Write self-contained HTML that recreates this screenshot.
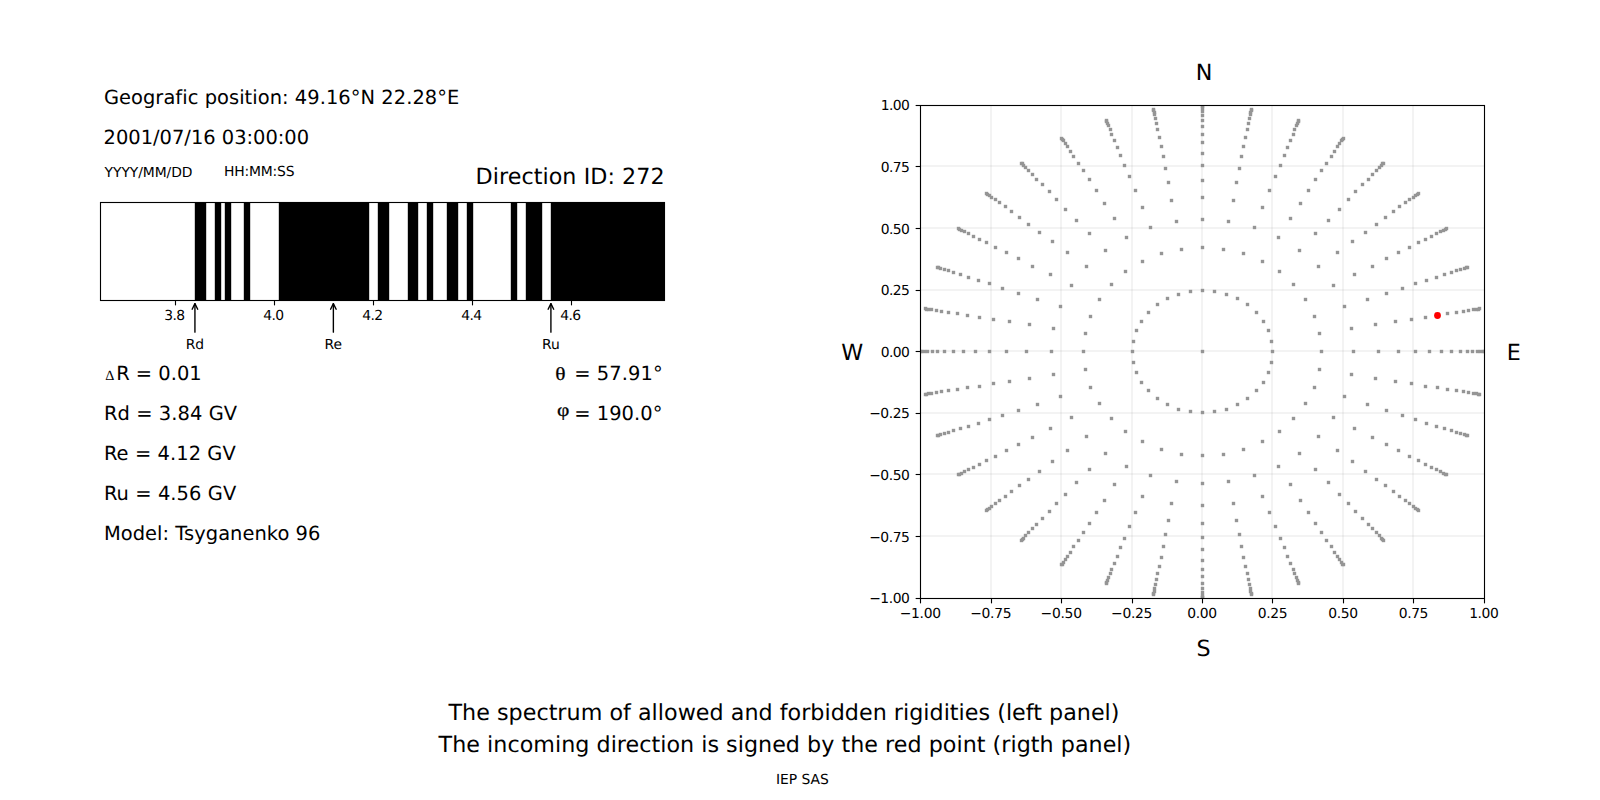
<!DOCTYPE html>
<html lang="en"><head><meta charset="utf-8"><title>Allowed and forbidden rigidities</title>
<style>html,body{margin:0;padding:0;background:#fff;}body{width:1600px;height:800px;overflow:hidden;}svg{display:block;}text{font-family:"DejaVu Sans","Liberation Sans",sans-serif;fill:#000;font-variant-ligatures:none;font-kerning:normal;text-rendering:geometricPrecision;}.s{font-family:"Liberation Serif","DejaVu Serif",serif;}</style></head><body>
<svg width="1600" height="800" viewBox="0 0 1600 800">
<rect width="1600" height="800" fill="#fff"/>
<text x="103.9" y="104" font-size="19.444" textLength="355.4">Geografic position: 49.16°N 22.28°E</text>
<text x="103.6" y="144" font-size="19.444">2001/07/16 03:00:00</text>
<text x="104.6" y="177" font-size="13.889" textLength="87.9">YYYY/MM/DD</text>
<text x="224.0" y="176" font-size="13.889" textLength="70.5">HH:MM:SS</text>
<text x="475.6" y="184" font-size="22.222" textLength="189.0">Direction ID: 272</text>
<g fill="#000">
<rect x="194.81" y="202.5" width="11.38" height="98.0"/>
<rect x="214.81" y="202.5" width="6.38" height="98.0"/>
<rect x="224.81" y="202.5" width="6.38" height="98.0"/>
<rect x="243.81" y="202.5" width="6.38" height="98.0"/>
<rect x="278.81" y="202.5" width="90.38" height="98.0"/>
<rect x="377.81" y="202.5" width="11.38" height="98.0"/>
<rect x="407.81" y="202.5" width="10.38" height="98.0"/>
<rect x="426.81" y="202.5" width="6.38" height="98.0"/>
<rect x="446.81" y="202.5" width="11.38" height="98.0"/>
<rect x="466.81" y="202.5" width="6.38" height="98.0"/>
<rect x="510.81" y="202.5" width="6.38" height="98.0"/>
<rect x="525.81" y="202.5" width="16.38" height="98.0"/>
<rect x="550.81" y="202.5" width="114.19" height="98.0"/>
</g>
<rect x="100.5" y="202.5" width="564.0" height="98.0" fill="none" stroke="#000" stroke-width="1.11"/>
<line x1="175.5" y1="300.5" x2="175.5" y2="305.36" stroke="#000" stroke-width="1.11"/>
<text x="174.6" y="320" font-size="13.889" text-anchor="middle" textLength="20.9">3.8</text>
<line x1="274.5" y1="300.5" x2="274.5" y2="305.36" stroke="#000" stroke-width="1.11"/>
<text x="273.6" y="320" font-size="13.889" text-anchor="middle" textLength="20.9">4.0</text>
<line x1="373.5" y1="300.5" x2="373.5" y2="305.36" stroke="#000" stroke-width="1.11"/>
<text x="372.6" y="320" font-size="13.889" text-anchor="middle" textLength="20.9">4.2</text>
<line x1="472.5" y1="300.5" x2="472.5" y2="305.36" stroke="#000" stroke-width="1.11"/>
<text x="471.6" y="320" font-size="13.889" text-anchor="middle" textLength="20.9">4.4</text>
<line x1="571.5" y1="300.5" x2="571.5" y2="305.36" stroke="#000" stroke-width="1.11"/>
<text x="570.6" y="320" font-size="13.889" text-anchor="middle" textLength="20.9">4.6</text>
<g stroke="#000" stroke-width="1.39" fill="none" stroke-linecap="round" stroke-linejoin="round"><path d="M194.93 332.15 L194.93 303.65"/><path d="M192.15 309.2 L194.93 303.65 L197.71 309.2"/></g>
<text x="194.93" y="348.8" font-size="13.889" text-anchor="middle">Rd</text>
<g stroke="#000" stroke-width="1.39" fill="none" stroke-linecap="round" stroke-linejoin="round"><path d="M333.37 332.15 L333.37 303.65"/><path d="M330.59 309.2 L333.37 303.65 L336.15 309.2"/></g>
<text x="333.37" y="348.8" font-size="13.889" text-anchor="middle">Re</text>
<g stroke="#000" stroke-width="1.39" fill="none" stroke-linecap="round" stroke-linejoin="round"><path d="M550.91 332.15 L550.91 303.65"/><path d="M548.13 309.2 L550.91 303.65 L553.69 309.2"/></g>
<text x="550.91" y="348.8" font-size="13.889" text-anchor="middle">Ru</text>
<text x="105.2" y="380" font-size="14.2" class="s">Δ</text>
<text x="116.2" y="380" font-size="19.444">R = 0.01</text>
<text x="103.9" y="420" font-size="19.444" textLength="133.2">Rd = 3.84 GV</text>
<text x="103.9" y="460" font-size="19.444" textLength="131.9">Re = 4.12 GV</text>
<text x="103.9" y="500" font-size="19.444" textLength="132.3">Ru = 4.56 GV</text>
<text x="103.9" y="540" font-size="19.444" textLength="216.5">Model: Tsyganenko 96</text>
<text transform="translate(555.3 380) scale(1.16 1)" font-size="18.5" class="s" stroke="#000" stroke-width="0.25">θ</text>
<text x="567.9" y="380" font-size="19.444" xml:space="preserve" textLength="94.7"> = 57.91°</text>
<text transform="translate(556.9 415.8) scale(1.16 1)" font-size="18.5" class="s" stroke="#000" stroke-width="0.25">φ</text>
<text x="567.9" y="420" font-size="19.444" xml:space="preserve" textLength="94.5"> = 190.0°</text>
<g stroke="#b0b0b0" stroke-opacity="0.15" stroke-width="2" shape-rendering="crispEdges">
<line x1="991" y1="105.5" x2="991" y2="598.5"/>
<line x1="920.5" y1="536" x2="1484.5" y2="536"/>
<line x1="1061" y1="105.5" x2="1061" y2="598.5"/>
<line x1="920.5" y1="474" x2="1484.5" y2="474"/>
<line x1="1132" y1="105.5" x2="1132" y2="598.5"/>
<line x1="920.5" y1="413" x2="1484.5" y2="413"/>
<line x1="1202" y1="105.5" x2="1202" y2="598.5"/>
<line x1="920.5" y1="351" x2="1484.5" y2="351"/>
<line x1="1272" y1="105.5" x2="1272" y2="598.5"/>
<line x1="920.5" y1="290" x2="1484.5" y2="290"/>
<line x1="1343" y1="105.5" x2="1343" y2="598.5"/>
<line x1="920.5" y1="228" x2="1484.5" y2="228"/>
<line x1="1413" y1="105.5" x2="1413" y2="598.5"/>
<line x1="920.5" y1="166" x2="1484.5" y2="166"/>
</g>
<clipPath id="c"><rect x="920.5" y="105.5" width="564.0" height="493.0"/></clipPath>
<g fill="#959595" clip-path="url(#c)">
<rect x="1200.81" y="349.81" width="3.38" height="3.38"/>
<rect x="1270.81" y="349.81" width="3.38" height="3.38"/>
<rect x="1269.81" y="339.81" width="3.38" height="3.38"/>
<rect x="1266.81" y="328.81" width="3.38" height="3.38"/>
<rect x="1261.81" y="319.81" width="3.38" height="3.38"/>
<rect x="1254.81" y="310.81" width="3.38" height="3.38"/>
<rect x="1245.81" y="302.81" width="3.38" height="3.38"/>
<rect x="1235.81" y="296.81" width="3.38" height="3.38"/>
<rect x="1224.81" y="292.81" width="3.38" height="3.38"/>
<rect x="1212.81" y="289.81" width="3.38" height="3.38"/>
<rect x="1200.81" y="288.81" width="3.38" height="3.38"/>
<rect x="1188.81" y="289.81" width="3.38" height="3.38"/>
<rect x="1176.81" y="292.81" width="3.38" height="3.38"/>
<rect x="1165.81" y="296.81" width="3.38" height="3.38"/>
<rect x="1155.81" y="302.81" width="3.38" height="3.38"/>
<rect x="1146.81" y="310.81" width="3.38" height="3.38"/>
<rect x="1139.81" y="319.81" width="3.38" height="3.38"/>
<rect x="1134.81" y="328.81" width="3.38" height="3.38"/>
<rect x="1131.81" y="339.81" width="3.38" height="3.38"/>
<rect x="1130.81" y="349.81" width="3.38" height="3.38"/>
<rect x="1131.81" y="360.81" width="3.38" height="3.38"/>
<rect x="1134.81" y="370.81" width="3.38" height="3.38"/>
<rect x="1139.81" y="380.81" width="3.38" height="3.38"/>
<rect x="1146.81" y="388.81" width="3.38" height="3.38"/>
<rect x="1155.81" y="396.81" width="3.38" height="3.38"/>
<rect x="1165.81" y="402.81" width="3.38" height="3.38"/>
<rect x="1176.81" y="407.81" width="3.38" height="3.38"/>
<rect x="1188.81" y="409.81" width="3.38" height="3.38"/>
<rect x="1200.81" y="410.81" width="3.38" height="3.38"/>
<rect x="1212.81" y="409.81" width="3.38" height="3.38"/>
<rect x="1224.81" y="407.81" width="3.38" height="3.38"/>
<rect x="1235.81" y="402.81" width="3.38" height="3.38"/>
<rect x="1245.81" y="396.81" width="3.38" height="3.38"/>
<rect x="1254.81" y="388.81" width="3.38" height="3.38"/>
<rect x="1261.81" y="380.81" width="3.38" height="3.38"/>
<rect x="1266.81" y="370.81" width="3.38" height="3.38"/>
<rect x="1269.81" y="360.81" width="3.38" height="3.38"/>
<rect x="1319.81" y="349.81" width="3.38" height="3.38"/>
<rect x="1317.81" y="331.81" width="3.38" height="3.38"/>
<rect x="1312.81" y="314.81" width="3.38" height="3.38"/>
<rect x="1303.81" y="297.81" width="3.38" height="3.38"/>
<rect x="1291.81" y="282.81" width="3.38" height="3.38"/>
<rect x="1277.81" y="269.81" width="3.38" height="3.38"/>
<rect x="1260.81" y="259.81" width="3.38" height="3.38"/>
<rect x="1241.81" y="251.81" width="3.38" height="3.38"/>
<rect x="1221.81" y="247.81" width="3.38" height="3.38"/>
<rect x="1200.81" y="245.81" width="3.38" height="3.38"/>
<rect x="1179.81" y="247.81" width="3.38" height="3.38"/>
<rect x="1159.81" y="251.81" width="3.38" height="3.38"/>
<rect x="1140.81" y="259.81" width="3.38" height="3.38"/>
<rect x="1123.81" y="269.81" width="3.38" height="3.38"/>
<rect x="1109.81" y="282.81" width="3.38" height="3.38"/>
<rect x="1097.81" y="297.81" width="3.38" height="3.38"/>
<rect x="1088.81" y="314.81" width="3.38" height="3.38"/>
<rect x="1083.81" y="331.81" width="3.38" height="3.38"/>
<rect x="1081.81" y="349.81" width="3.38" height="3.38"/>
<rect x="1083.81" y="367.81" width="3.38" height="3.38"/>
<rect x="1088.81" y="385.81" width="3.38" height="3.38"/>
<rect x="1097.81" y="401.81" width="3.38" height="3.38"/>
<rect x="1109.81" y="416.81" width="3.38" height="3.38"/>
<rect x="1123.81" y="429.81" width="3.38" height="3.38"/>
<rect x="1140.81" y="439.81" width="3.38" height="3.38"/>
<rect x="1159.81" y="447.81" width="3.38" height="3.38"/>
<rect x="1179.81" y="452.81" width="3.38" height="3.38"/>
<rect x="1200.81" y="453.81" width="3.38" height="3.38"/>
<rect x="1221.81" y="452.81" width="3.38" height="3.38"/>
<rect x="1241.81" y="447.81" width="3.38" height="3.38"/>
<rect x="1260.81" y="439.81" width="3.38" height="3.38"/>
<rect x="1277.81" y="429.81" width="3.38" height="3.38"/>
<rect x="1291.81" y="416.81" width="3.38" height="3.38"/>
<rect x="1303.81" y="401.81" width="3.38" height="3.38"/>
<rect x="1312.81" y="385.81" width="3.38" height="3.38"/>
<rect x="1317.81" y="367.81" width="3.38" height="3.38"/>
<rect x="1351.81" y="349.81" width="3.38" height="3.38"/>
<rect x="1349.81" y="326.81" width="3.38" height="3.38"/>
<rect x="1342.81" y="304.81" width="3.38" height="3.38"/>
<rect x="1331.81" y="283.81" width="3.38" height="3.38"/>
<rect x="1316.81" y="264.81" width="3.38" height="3.38"/>
<rect x="1297.81" y="248.81" width="3.38" height="3.38"/>
<rect x="1276.81" y="235.81" width="3.38" height="3.38"/>
<rect x="1252.81" y="225.81" width="3.38" height="3.38"/>
<rect x="1226.81" y="219.81" width="3.38" height="3.38"/>
<rect x="1200.81" y="217.81" width="3.38" height="3.38"/>
<rect x="1174.81" y="219.81" width="3.38" height="3.38"/>
<rect x="1148.81" y="225.81" width="3.38" height="3.38"/>
<rect x="1124.81" y="235.81" width="3.38" height="3.38"/>
<rect x="1103.81" y="248.81" width="3.38" height="3.38"/>
<rect x="1084.81" y="264.81" width="3.38" height="3.38"/>
<rect x="1069.81" y="283.81" width="3.38" height="3.38"/>
<rect x="1058.81" y="304.81" width="3.38" height="3.38"/>
<rect x="1051.81" y="326.81" width="3.38" height="3.38"/>
<rect x="1049.81" y="349.81" width="3.38" height="3.38"/>
<rect x="1051.81" y="372.81" width="3.38" height="3.38"/>
<rect x="1058.81" y="394.81" width="3.38" height="3.38"/>
<rect x="1069.81" y="415.81" width="3.38" height="3.38"/>
<rect x="1084.81" y="434.81" width="3.38" height="3.38"/>
<rect x="1103.81" y="451.81" width="3.38" height="3.38"/>
<rect x="1124.81" y="464.81" width="3.38" height="3.38"/>
<rect x="1148.81" y="473.81" width="3.38" height="3.38"/>
<rect x="1174.81" y="479.81" width="3.38" height="3.38"/>
<rect x="1200.81" y="481.81" width="3.38" height="3.38"/>
<rect x="1226.81" y="479.81" width="3.38" height="3.38"/>
<rect x="1252.81" y="473.81" width="3.38" height="3.38"/>
<rect x="1276.81" y="464.81" width="3.38" height="3.38"/>
<rect x="1297.81" y="451.81" width="3.38" height="3.38"/>
<rect x="1316.81" y="434.81" width="3.38" height="3.38"/>
<rect x="1331.81" y="415.81" width="3.38" height="3.38"/>
<rect x="1342.81" y="394.81" width="3.38" height="3.38"/>
<rect x="1349.81" y="372.81" width="3.38" height="3.38"/>
<rect x="1376.81" y="349.81" width="3.38" height="3.38"/>
<rect x="1373.81" y="322.81" width="3.38" height="3.38"/>
<rect x="1365.81" y="297.81" width="3.38" height="3.38"/>
<rect x="1352.81" y="272.81" width="3.38" height="3.38"/>
<rect x="1335.81" y="250.81" width="3.38" height="3.38"/>
<rect x="1313.81" y="231.81" width="3.38" height="3.38"/>
<rect x="1288.81" y="216.81" width="3.38" height="3.38"/>
<rect x="1260.81" y="205.81" width="3.38" height="3.38"/>
<rect x="1231.81" y="198.81" width="3.38" height="3.38"/>
<rect x="1200.81" y="195.81" width="3.38" height="3.38"/>
<rect x="1169.81" y="198.81" width="3.38" height="3.38"/>
<rect x="1140.81" y="205.81" width="3.38" height="3.38"/>
<rect x="1112.81" y="216.81" width="3.38" height="3.38"/>
<rect x="1087.81" y="231.81" width="3.38" height="3.38"/>
<rect x="1065.81" y="250.81" width="3.38" height="3.38"/>
<rect x="1048.81" y="272.81" width="3.38" height="3.38"/>
<rect x="1035.81" y="297.81" width="3.38" height="3.38"/>
<rect x="1027.81" y="322.81" width="3.38" height="3.38"/>
<rect x="1024.81" y="349.81" width="3.38" height="3.38"/>
<rect x="1027.81" y="376.81" width="3.38" height="3.38"/>
<rect x="1035.81" y="402.81" width="3.38" height="3.38"/>
<rect x="1048.81" y="426.81" width="3.38" height="3.38"/>
<rect x="1065.81" y="448.81" width="3.38" height="3.38"/>
<rect x="1087.81" y="467.81" width="3.38" height="3.38"/>
<rect x="1112.81" y="482.81" width="3.38" height="3.38"/>
<rect x="1140.81" y="494.81" width="3.38" height="3.38"/>
<rect x="1169.81" y="501.81" width="3.38" height="3.38"/>
<rect x="1200.81" y="503.81" width="3.38" height="3.38"/>
<rect x="1231.81" y="501.81" width="3.38" height="3.38"/>
<rect x="1260.81" y="494.81" width="3.38" height="3.38"/>
<rect x="1288.81" y="482.81" width="3.38" height="3.38"/>
<rect x="1313.81" y="467.81" width="3.38" height="3.38"/>
<rect x="1335.81" y="448.81" width="3.38" height="3.38"/>
<rect x="1352.81" y="426.81" width="3.38" height="3.38"/>
<rect x="1365.81" y="402.81" width="3.38" height="3.38"/>
<rect x="1373.81" y="376.81" width="3.38" height="3.38"/>
<rect x="1396.81" y="349.81" width="3.38" height="3.38"/>
<rect x="1393.81" y="319.81" width="3.38" height="3.38"/>
<rect x="1384.81" y="291.81" width="3.38" height="3.38"/>
<rect x="1370.81" y="264.81" width="3.38" height="3.38"/>
<rect x="1350.81" y="239.81" width="3.38" height="3.38"/>
<rect x="1326.81" y="218.81" width="3.38" height="3.38"/>
<rect x="1298.81" y="201.81" width="3.38" height="3.38"/>
<rect x="1267.81" y="188.81" width="3.38" height="3.38"/>
<rect x="1234.81" y="180.81" width="3.38" height="3.38"/>
<rect x="1200.81" y="178.81" width="3.38" height="3.38"/>
<rect x="1166.81" y="180.81" width="3.38" height="3.38"/>
<rect x="1133.81" y="188.81" width="3.38" height="3.38"/>
<rect x="1102.81" y="201.81" width="3.38" height="3.38"/>
<rect x="1074.81" y="218.81" width="3.38" height="3.38"/>
<rect x="1050.81" y="239.81" width="3.38" height="3.38"/>
<rect x="1030.81" y="264.81" width="3.38" height="3.38"/>
<rect x="1016.81" y="291.81" width="3.38" height="3.38"/>
<rect x="1007.81" y="319.81" width="3.38" height="3.38"/>
<rect x="1004.81" y="349.81" width="3.38" height="3.38"/>
<rect x="1007.81" y="379.81" width="3.38" height="3.38"/>
<rect x="1016.81" y="408.81" width="3.38" height="3.38"/>
<rect x="1030.81" y="435.81" width="3.38" height="3.38"/>
<rect x="1050.81" y="459.81" width="3.38" height="3.38"/>
<rect x="1074.81" y="480.81" width="3.38" height="3.38"/>
<rect x="1102.81" y="498.81" width="3.38" height="3.38"/>
<rect x="1133.81" y="510.81" width="3.38" height="3.38"/>
<rect x="1166.81" y="518.81" width="3.38" height="3.38"/>
<rect x="1200.81" y="521.81" width="3.38" height="3.38"/>
<rect x="1234.81" y="518.81" width="3.38" height="3.38"/>
<rect x="1267.81" y="510.81" width="3.38" height="3.38"/>
<rect x="1298.81" y="498.81" width="3.38" height="3.38"/>
<rect x="1326.81" y="480.81" width="3.38" height="3.38"/>
<rect x="1350.81" y="459.81" width="3.38" height="3.38"/>
<rect x="1370.81" y="435.81" width="3.38" height="3.38"/>
<rect x="1384.81" y="408.81" width="3.38" height="3.38"/>
<rect x="1393.81" y="379.81" width="3.38" height="3.38"/>
<rect x="1413.81" y="349.81" width="3.38" height="3.38"/>
<rect x="1409.81" y="317.81" width="3.38" height="3.38"/>
<rect x="1400.81" y="286.81" width="3.38" height="3.38"/>
<rect x="1384.81" y="256.81" width="3.38" height="3.38"/>
<rect x="1363.81" y="230.81" width="3.38" height="3.38"/>
<rect x="1337.81" y="207.81" width="3.38" height="3.38"/>
<rect x="1306.81" y="188.81" width="3.38" height="3.38"/>
<rect x="1273.81" y="174.81" width="3.38" height="3.38"/>
<rect x="1237.81" y="166.81" width="3.38" height="3.38"/>
<rect x="1200.81" y="163.81" width="3.38" height="3.38"/>
<rect x="1163.81" y="166.81" width="3.38" height="3.38"/>
<rect x="1127.81" y="174.81" width="3.38" height="3.38"/>
<rect x="1094.81" y="188.81" width="3.38" height="3.38"/>
<rect x="1063.81" y="207.81" width="3.38" height="3.38"/>
<rect x="1037.81" y="230.81" width="3.38" height="3.38"/>
<rect x="1016.81" y="256.81" width="3.38" height="3.38"/>
<rect x="1000.81" y="286.81" width="3.38" height="3.38"/>
<rect x="991.81" y="317.81" width="3.38" height="3.38"/>
<rect x="987.81" y="349.81" width="3.38" height="3.38"/>
<rect x="991.81" y="381.81" width="3.38" height="3.38"/>
<rect x="1000.81" y="413.81" width="3.38" height="3.38"/>
<rect x="1016.81" y="442.81" width="3.38" height="3.38"/>
<rect x="1037.81" y="469.81" width="3.38" height="3.38"/>
<rect x="1063.81" y="492.81" width="3.38" height="3.38"/>
<rect x="1094.81" y="510.81" width="3.38" height="3.38"/>
<rect x="1127.81" y="524.81" width="3.38" height="3.38"/>
<rect x="1163.81" y="532.81" width="3.38" height="3.38"/>
<rect x="1200.81" y="535.81" width="3.38" height="3.38"/>
<rect x="1237.81" y="532.81" width="3.38" height="3.38"/>
<rect x="1273.81" y="524.81" width="3.38" height="3.38"/>
<rect x="1306.81" y="510.81" width="3.38" height="3.38"/>
<rect x="1337.81" y="492.81" width="3.38" height="3.38"/>
<rect x="1363.81" y="469.81" width="3.38" height="3.38"/>
<rect x="1384.81" y="442.81" width="3.38" height="3.38"/>
<rect x="1400.81" y="413.81" width="3.38" height="3.38"/>
<rect x="1409.81" y="381.81" width="3.38" height="3.38"/>
<rect x="1427.81" y="349.81" width="3.38" height="3.38"/>
<rect x="1423.81" y="315.81" width="3.38" height="3.38"/>
<rect x="1413.81" y="281.81" width="3.38" height="3.38"/>
<rect x="1396.81" y="250.81" width="3.38" height="3.38"/>
<rect x="1374.81" y="222.81" width="3.38" height="3.38"/>
<rect x="1346.81" y="197.81" width="3.38" height="3.38"/>
<rect x="1313.81" y="177.81" width="3.38" height="3.38"/>
<rect x="1278.81" y="163.81" width="3.38" height="3.38"/>
<rect x="1239.81" y="154.81" width="3.38" height="3.38"/>
<rect x="1200.81" y="151.81" width="3.38" height="3.38"/>
<rect x="1161.81" y="154.81" width="3.38" height="3.38"/>
<rect x="1122.81" y="163.81" width="3.38" height="3.38"/>
<rect x="1087.81" y="177.81" width="3.38" height="3.38"/>
<rect x="1054.81" y="197.81" width="3.38" height="3.38"/>
<rect x="1026.81" y="222.81" width="3.38" height="3.38"/>
<rect x="1004.81" y="250.81" width="3.38" height="3.38"/>
<rect x="987.81" y="281.81" width="3.38" height="3.38"/>
<rect x="977.81" y="315.81" width="3.38" height="3.38"/>
<rect x="973.81" y="349.81" width="3.38" height="3.38"/>
<rect x="977.81" y="384.81" width="3.38" height="3.38"/>
<rect x="987.81" y="417.81" width="3.38" height="3.38"/>
<rect x="1004.81" y="448.81" width="3.38" height="3.38"/>
<rect x="1026.81" y="477.81" width="3.38" height="3.38"/>
<rect x="1054.81" y="501.81" width="3.38" height="3.38"/>
<rect x="1087.81" y="521.81" width="3.38" height="3.38"/>
<rect x="1122.81" y="536.81" width="3.38" height="3.38"/>
<rect x="1161.81" y="544.81" width="3.38" height="3.38"/>
<rect x="1200.81" y="547.81" width="3.38" height="3.38"/>
<rect x="1239.81" y="544.81" width="3.38" height="3.38"/>
<rect x="1278.81" y="536.81" width="3.38" height="3.38"/>
<rect x="1313.81" y="521.81" width="3.38" height="3.38"/>
<rect x="1346.81" y="501.81" width="3.38" height="3.38"/>
<rect x="1374.81" y="477.81" width="3.38" height="3.38"/>
<rect x="1396.81" y="448.81" width="3.38" height="3.38"/>
<rect x="1413.81" y="417.81" width="3.38" height="3.38"/>
<rect x="1423.81" y="384.81" width="3.38" height="3.38"/>
<rect x="1439.81" y="349.81" width="3.38" height="3.38"/>
<rect x="1435.81" y="313.81" width="3.38" height="3.38"/>
<rect x="1424.81" y="278.81" width="3.38" height="3.38"/>
<rect x="1407.81" y="245.81" width="3.38" height="3.38"/>
<rect x="1383.81" y="215.81" width="3.38" height="3.38"/>
<rect x="1353.81" y="189.81" width="3.38" height="3.38"/>
<rect x="1319.81" y="168.81" width="3.38" height="3.38"/>
<rect x="1282.81" y="153.81" width="3.38" height="3.38"/>
<rect x="1241.81" y="144.81" width="3.38" height="3.38"/>
<rect x="1200.81" y="140.81" width="3.38" height="3.38"/>
<rect x="1159.81" y="144.81" width="3.38" height="3.38"/>
<rect x="1118.81" y="153.81" width="3.38" height="3.38"/>
<rect x="1081.81" y="168.81" width="3.38" height="3.38"/>
<rect x="1047.81" y="189.81" width="3.38" height="3.38"/>
<rect x="1017.81" y="215.81" width="3.38" height="3.38"/>
<rect x="993.81" y="245.81" width="3.38" height="3.38"/>
<rect x="976.81" y="278.81" width="3.38" height="3.38"/>
<rect x="965.81" y="313.81" width="3.38" height="3.38"/>
<rect x="961.81" y="349.81" width="3.38" height="3.38"/>
<rect x="965.81" y="385.81" width="3.38" height="3.38"/>
<rect x="976.81" y="421.81" width="3.38" height="3.38"/>
<rect x="993.81" y="454.81" width="3.38" height="3.38"/>
<rect x="1017.81" y="483.81" width="3.38" height="3.38"/>
<rect x="1047.81" y="509.81" width="3.38" height="3.38"/>
<rect x="1081.81" y="530.81" width="3.38" height="3.38"/>
<rect x="1118.81" y="545.81" width="3.38" height="3.38"/>
<rect x="1159.81" y="555.81" width="3.38" height="3.38"/>
<rect x="1200.81" y="558.81" width="3.38" height="3.38"/>
<rect x="1241.81" y="555.81" width="3.38" height="3.38"/>
<rect x="1282.81" y="545.81" width="3.38" height="3.38"/>
<rect x="1319.81" y="530.81" width="3.38" height="3.38"/>
<rect x="1353.81" y="509.81" width="3.38" height="3.38"/>
<rect x="1383.81" y="483.81" width="3.38" height="3.38"/>
<rect x="1407.81" y="454.81" width="3.38" height="3.38"/>
<rect x="1424.81" y="421.81" width="3.38" height="3.38"/>
<rect x="1435.81" y="385.81" width="3.38" height="3.38"/>
<rect x="1449.81" y="349.81" width="3.38" height="3.38"/>
<rect x="1445.81" y="311.81" width="3.38" height="3.38"/>
<rect x="1434.81" y="275.81" width="3.38" height="3.38"/>
<rect x="1416.81" y="240.81" width="3.38" height="3.38"/>
<rect x="1391.81" y="209.81" width="3.38" height="3.38"/>
<rect x="1360.81" y="182.81" width="3.38" height="3.38"/>
<rect x="1324.81" y="161.81" width="3.38" height="3.38"/>
<rect x="1285.81" y="145.81" width="3.38" height="3.38"/>
<rect x="1243.81" y="135.81" width="3.38" height="3.38"/>
<rect x="1200.81" y="132.81" width="3.38" height="3.38"/>
<rect x="1157.81" y="135.81" width="3.38" height="3.38"/>
<rect x="1115.81" y="145.81" width="3.38" height="3.38"/>
<rect x="1076.81" y="161.81" width="3.38" height="3.38"/>
<rect x="1040.81" y="182.81" width="3.38" height="3.38"/>
<rect x="1009.81" y="209.81" width="3.38" height="3.38"/>
<rect x="984.81" y="240.81" width="3.38" height="3.38"/>
<rect x="966.81" y="275.81" width="3.38" height="3.38"/>
<rect x="955.81" y="311.81" width="3.38" height="3.38"/>
<rect x="951.81" y="349.81" width="3.38" height="3.38"/>
<rect x="955.81" y="387.81" width="3.38" height="3.38"/>
<rect x="966.81" y="424.81" width="3.38" height="3.38"/>
<rect x="984.81" y="458.81" width="3.38" height="3.38"/>
<rect x="1009.81" y="489.81" width="3.38" height="3.38"/>
<rect x="1040.81" y="516.81" width="3.38" height="3.38"/>
<rect x="1076.81" y="538.81" width="3.38" height="3.38"/>
<rect x="1115.81" y="554.81" width="3.38" height="3.38"/>
<rect x="1157.81" y="564.81" width="3.38" height="3.38"/>
<rect x="1200.81" y="567.81" width="3.38" height="3.38"/>
<rect x="1243.81" y="564.81" width="3.38" height="3.38"/>
<rect x="1285.81" y="554.81" width="3.38" height="3.38"/>
<rect x="1324.81" y="538.81" width="3.38" height="3.38"/>
<rect x="1360.81" y="516.81" width="3.38" height="3.38"/>
<rect x="1391.81" y="489.81" width="3.38" height="3.38"/>
<rect x="1416.81" y="458.81" width="3.38" height="3.38"/>
<rect x="1434.81" y="424.81" width="3.38" height="3.38"/>
<rect x="1445.81" y="387.81" width="3.38" height="3.38"/>
<rect x="1458.81" y="349.81" width="3.38" height="3.38"/>
<rect x="1454.81" y="310.81" width="3.38" height="3.38"/>
<rect x="1442.81" y="272.81" width="3.38" height="3.38"/>
<rect x="1423.81" y="237.81" width="3.38" height="3.38"/>
<rect x="1397.81" y="204.81" width="3.38" height="3.38"/>
<rect x="1366.81" y="177.81" width="3.38" height="3.38"/>
<rect x="1329.81" y="154.81" width="3.38" height="3.38"/>
<rect x="1288.81" y="138.81" width="3.38" height="3.38"/>
<rect x="1245.81" y="127.81" width="3.38" height="3.38"/>
<rect x="1200.81" y="124.81" width="3.38" height="3.38"/>
<rect x="1155.81" y="127.81" width="3.38" height="3.38"/>
<rect x="1112.81" y="138.81" width="3.38" height="3.38"/>
<rect x="1071.81" y="154.81" width="3.38" height="3.38"/>
<rect x="1034.81" y="177.81" width="3.38" height="3.38"/>
<rect x="1003.81" y="204.81" width="3.38" height="3.38"/>
<rect x="977.81" y="237.81" width="3.38" height="3.38"/>
<rect x="958.81" y="272.81" width="3.38" height="3.38"/>
<rect x="946.81" y="310.81" width="3.38" height="3.38"/>
<rect x="942.81" y="349.81" width="3.38" height="3.38"/>
<rect x="946.81" y="388.81" width="3.38" height="3.38"/>
<rect x="958.81" y="426.81" width="3.38" height="3.38"/>
<rect x="977.81" y="462.81" width="3.38" height="3.38"/>
<rect x="1003.81" y="494.81" width="3.38" height="3.38"/>
<rect x="1034.81" y="522.81" width="3.38" height="3.38"/>
<rect x="1071.81" y="544.81" width="3.38" height="3.38"/>
<rect x="1112.81" y="561.81" width="3.38" height="3.38"/>
<rect x="1155.81" y="571.81" width="3.38" height="3.38"/>
<rect x="1200.81" y="574.81" width="3.38" height="3.38"/>
<rect x="1245.81" y="571.81" width="3.38" height="3.38"/>
<rect x="1288.81" y="561.81" width="3.38" height="3.38"/>
<rect x="1329.81" y="544.81" width="3.38" height="3.38"/>
<rect x="1366.81" y="522.81" width="3.38" height="3.38"/>
<rect x="1397.81" y="494.81" width="3.38" height="3.38"/>
<rect x="1423.81" y="462.81" width="3.38" height="3.38"/>
<rect x="1442.81" y="426.81" width="3.38" height="3.38"/>
<rect x="1454.81" y="388.81" width="3.38" height="3.38"/>
<rect x="1465.81" y="349.81" width="3.38" height="3.38"/>
<rect x="1461.81" y="309.81" width="3.38" height="3.38"/>
<rect x="1449.81" y="270.81" width="3.38" height="3.38"/>
<rect x="1429.81" y="234.81" width="3.38" height="3.38"/>
<rect x="1403.81" y="200.81" width="3.38" height="3.38"/>
<rect x="1370.81" y="172.81" width="3.38" height="3.38"/>
<rect x="1332.81" y="149.81" width="3.38" height="3.38"/>
<rect x="1291.81" y="132.81" width="3.38" height="3.38"/>
<rect x="1246.81" y="121.81" width="3.38" height="3.38"/>
<rect x="1200.81" y="118.81" width="3.38" height="3.38"/>
<rect x="1154.81" y="121.81" width="3.38" height="3.38"/>
<rect x="1109.81" y="132.81" width="3.38" height="3.38"/>
<rect x="1068.81" y="149.81" width="3.38" height="3.38"/>
<rect x="1030.81" y="172.81" width="3.38" height="3.38"/>
<rect x="997.81" y="200.81" width="3.38" height="3.38"/>
<rect x="971.81" y="234.81" width="3.38" height="3.38"/>
<rect x="951.81" y="270.81" width="3.38" height="3.38"/>
<rect x="939.81" y="309.81" width="3.38" height="3.38"/>
<rect x="935.81" y="349.81" width="3.38" height="3.38"/>
<rect x="939.81" y="389.81" width="3.38" height="3.38"/>
<rect x="951.81" y="428.81" width="3.38" height="3.38"/>
<rect x="971.81" y="465.81" width="3.38" height="3.38"/>
<rect x="997.81" y="498.81" width="3.38" height="3.38"/>
<rect x="1030.81" y="526.81" width="3.38" height="3.38"/>
<rect x="1068.81" y="550.81" width="3.38" height="3.38"/>
<rect x="1109.81" y="567.81" width="3.38" height="3.38"/>
<rect x="1154.81" y="577.81" width="3.38" height="3.38"/>
<rect x="1200.81" y="581.81" width="3.38" height="3.38"/>
<rect x="1246.81" y="577.81" width="3.38" height="3.38"/>
<rect x="1291.81" y="567.81" width="3.38" height="3.38"/>
<rect x="1332.81" y="550.81" width="3.38" height="3.38"/>
<rect x="1370.81" y="526.81" width="3.38" height="3.38"/>
<rect x="1403.81" y="498.81" width="3.38" height="3.38"/>
<rect x="1429.81" y="465.81" width="3.38" height="3.38"/>
<rect x="1449.81" y="428.81" width="3.38" height="3.38"/>
<rect x="1461.81" y="389.81" width="3.38" height="3.38"/>
<rect x="1470.81" y="349.81" width="3.38" height="3.38"/>
<rect x="1466.81" y="308.81" width="3.38" height="3.38"/>
<rect x="1454.81" y="268.81" width="3.38" height="3.38"/>
<rect x="1434.81" y="231.81" width="3.38" height="3.38"/>
<rect x="1407.81" y="197.81" width="3.38" height="3.38"/>
<rect x="1374.81" y="168.81" width="3.38" height="3.38"/>
<rect x="1335.81" y="144.81" width="3.38" height="3.38"/>
<rect x="1292.81" y="127.81" width="3.38" height="3.38"/>
<rect x="1247.81" y="116.81" width="3.38" height="3.38"/>
<rect x="1200.81" y="113.81" width="3.38" height="3.38"/>
<rect x="1153.81" y="116.81" width="3.38" height="3.38"/>
<rect x="1108.81" y="127.81" width="3.38" height="3.38"/>
<rect x="1065.81" y="144.81" width="3.38" height="3.38"/>
<rect x="1026.81" y="168.81" width="3.38" height="3.38"/>
<rect x="993.81" y="197.81" width="3.38" height="3.38"/>
<rect x="966.81" y="231.81" width="3.38" height="3.38"/>
<rect x="946.81" y="268.81" width="3.38" height="3.38"/>
<rect x="934.81" y="308.81" width="3.38" height="3.38"/>
<rect x="930.81" y="349.81" width="3.38" height="3.38"/>
<rect x="934.81" y="390.81" width="3.38" height="3.38"/>
<rect x="946.81" y="430.81" width="3.38" height="3.38"/>
<rect x="966.81" y="467.81" width="3.38" height="3.38"/>
<rect x="993.81" y="501.81" width="3.38" height="3.38"/>
<rect x="1026.81" y="530.81" width="3.38" height="3.38"/>
<rect x="1065.81" y="554.81" width="3.38" height="3.38"/>
<rect x="1108.81" y="571.81" width="3.38" height="3.38"/>
<rect x="1153.81" y="582.81" width="3.38" height="3.38"/>
<rect x="1200.81" y="586.81" width="3.38" height="3.38"/>
<rect x="1247.81" y="582.81" width="3.38" height="3.38"/>
<rect x="1292.81" y="571.81" width="3.38" height="3.38"/>
<rect x="1335.81" y="554.81" width="3.38" height="3.38"/>
<rect x="1374.81" y="530.81" width="3.38" height="3.38"/>
<rect x="1407.81" y="501.81" width="3.38" height="3.38"/>
<rect x="1434.81" y="467.81" width="3.38" height="3.38"/>
<rect x="1454.81" y="430.81" width="3.38" height="3.38"/>
<rect x="1466.81" y="390.81" width="3.38" height="3.38"/>
<rect x="1475.81" y="349.81" width="3.38" height="3.38"/>
<rect x="1471.81" y="307.81" width="3.38" height="3.38"/>
<rect x="1458.81" y="267.81" width="3.38" height="3.38"/>
<rect x="1438.81" y="229.81" width="3.38" height="3.38"/>
<rect x="1411.81" y="195.81" width="3.38" height="3.38"/>
<rect x="1377.81" y="165.81" width="3.38" height="3.38"/>
<rect x="1337.81" y="141.81" width="3.38" height="3.38"/>
<rect x="1294.81" y="123.81" width="3.38" height="3.38"/>
<rect x="1248.81" y="112.81" width="3.38" height="3.38"/>
<rect x="1200.81" y="109.81" width="3.38" height="3.38"/>
<rect x="1152.81" y="112.81" width="3.38" height="3.38"/>
<rect x="1106.81" y="123.81" width="3.38" height="3.38"/>
<rect x="1063.81" y="141.81" width="3.38" height="3.38"/>
<rect x="1023.81" y="165.81" width="3.38" height="3.38"/>
<rect x="989.81" y="195.81" width="3.38" height="3.38"/>
<rect x="962.81" y="229.81" width="3.38" height="3.38"/>
<rect x="942.81" y="267.81" width="3.38" height="3.38"/>
<rect x="929.81" y="307.81" width="3.38" height="3.38"/>
<rect x="925.81" y="349.81" width="3.38" height="3.38"/>
<rect x="929.81" y="391.81" width="3.38" height="3.38"/>
<rect x="942.81" y="431.81" width="3.38" height="3.38"/>
<rect x="962.81" y="469.81" width="3.38" height="3.38"/>
<rect x="989.81" y="504.81" width="3.38" height="3.38"/>
<rect x="1023.81" y="533.81" width="3.38" height="3.38"/>
<rect x="1063.81" y="557.81" width="3.38" height="3.38"/>
<rect x="1106.81" y="575.81" width="3.38" height="3.38"/>
<rect x="1152.81" y="586.81" width="3.38" height="3.38"/>
<rect x="1200.81" y="590.81" width="3.38" height="3.38"/>
<rect x="1248.81" y="586.81" width="3.38" height="3.38"/>
<rect x="1294.81" y="575.81" width="3.38" height="3.38"/>
<rect x="1337.81" y="557.81" width="3.38" height="3.38"/>
<rect x="1377.81" y="533.81" width="3.38" height="3.38"/>
<rect x="1411.81" y="504.81" width="3.38" height="3.38"/>
<rect x="1438.81" y="469.81" width="3.38" height="3.38"/>
<rect x="1458.81" y="431.81" width="3.38" height="3.38"/>
<rect x="1471.81" y="391.81" width="3.38" height="3.38"/>
<rect x="1478.81" y="349.81" width="3.38" height="3.38"/>
<rect x="1474.81" y="307.81" width="3.38" height="3.38"/>
<rect x="1462.81" y="266.81" width="3.38" height="3.38"/>
<rect x="1441.81" y="228.81" width="3.38" height="3.38"/>
<rect x="1413.81" y="193.81" width="3.38" height="3.38"/>
<rect x="1379.81" y="163.81" width="3.38" height="3.38"/>
<rect x="1339.81" y="138.81" width="3.38" height="3.38"/>
<rect x="1295.81" y="121.81" width="3.38" height="3.38"/>
<rect x="1248.81" y="110.81" width="3.38" height="3.38"/>
<rect x="1200.81" y="106.81" width="3.38" height="3.38"/>
<rect x="1152.81" y="110.81" width="3.38" height="3.38"/>
<rect x="1105.81" y="121.81" width="3.38" height="3.38"/>
<rect x="1061.81" y="138.81" width="3.38" height="3.38"/>
<rect x="1021.81" y="163.81" width="3.38" height="3.38"/>
<rect x="987.81" y="193.81" width="3.38" height="3.38"/>
<rect x="959.81" y="228.81" width="3.38" height="3.38"/>
<rect x="938.81" y="266.81" width="3.38" height="3.38"/>
<rect x="926.81" y="307.81" width="3.38" height="3.38"/>
<rect x="922.81" y="349.81" width="3.38" height="3.38"/>
<rect x="926.81" y="391.81" width="3.38" height="3.38"/>
<rect x="938.81" y="432.81" width="3.38" height="3.38"/>
<rect x="959.81" y="471.81" width="3.38" height="3.38"/>
<rect x="987.81" y="506.81" width="3.38" height="3.38"/>
<rect x="1021.81" y="536.81" width="3.38" height="3.38"/>
<rect x="1061.81" y="560.81" width="3.38" height="3.38"/>
<rect x="1105.81" y="578.81" width="3.38" height="3.38"/>
<rect x="1152.81" y="589.81" width="3.38" height="3.38"/>
<rect x="1200.81" y="593.81" width="3.38" height="3.38"/>
<rect x="1248.81" y="589.81" width="3.38" height="3.38"/>
<rect x="1295.81" y="578.81" width="3.38" height="3.38"/>
<rect x="1339.81" y="560.81" width="3.38" height="3.38"/>
<rect x="1379.81" y="536.81" width="3.38" height="3.38"/>
<rect x="1413.81" y="506.81" width="3.38" height="3.38"/>
<rect x="1441.81" y="471.81" width="3.38" height="3.38"/>
<rect x="1462.81" y="432.81" width="3.38" height="3.38"/>
<rect x="1474.81" y="391.81" width="3.38" height="3.38"/>
<rect x="1481.81" y="349.81" width="3.38" height="3.38"/>
<rect x="1476.81" y="307.81" width="3.38" height="3.38"/>
<rect x="1464.81" y="265.81" width="3.38" height="3.38"/>
<rect x="1443.81" y="227.81" width="3.38" height="3.38"/>
<rect x="1415.81" y="192.81" width="3.38" height="3.38"/>
<rect x="1380.81" y="161.81" width="3.38" height="3.38"/>
<rect x="1340.81" y="137.81" width="3.38" height="3.38"/>
<rect x="1296.81" y="119.81" width="3.38" height="3.38"/>
<rect x="1249.81" y="108.81" width="3.38" height="3.38"/>
<rect x="1200.81" y="104.81" width="3.38" height="3.38"/>
<rect x="1151.81" y="108.81" width="3.38" height="3.38"/>
<rect x="1104.81" y="119.81" width="3.38" height="3.38"/>
<rect x="1060.81" y="137.81" width="3.38" height="3.38"/>
<rect x="1020.81" y="161.81" width="3.38" height="3.38"/>
<rect x="985.81" y="192.81" width="3.38" height="3.38"/>
<rect x="957.81" y="227.81" width="3.38" height="3.38"/>
<rect x="936.81" y="265.81" width="3.38" height="3.38"/>
<rect x="924.81" y="307.81" width="3.38" height="3.38"/>
<rect x="919.81" y="349.81" width="3.38" height="3.38"/>
<rect x="924.81" y="392.81" width="3.38" height="3.38"/>
<rect x="936.81" y="433.81" width="3.38" height="3.38"/>
<rect x="957.81" y="472.81" width="3.38" height="3.38"/>
<rect x="985.81" y="507.81" width="3.38" height="3.38"/>
<rect x="1020.81" y="537.81" width="3.38" height="3.38"/>
<rect x="1060.81" y="562.81" width="3.38" height="3.38"/>
<rect x="1104.81" y="580.81" width="3.38" height="3.38"/>
<rect x="1151.81" y="591.81" width="3.38" height="3.38"/>
<rect x="1200.81" y="595.81" width="3.38" height="3.38"/>
<rect x="1249.81" y="591.81" width="3.38" height="3.38"/>
<rect x="1296.81" y="580.81" width="3.38" height="3.38"/>
<rect x="1340.81" y="562.81" width="3.38" height="3.38"/>
<rect x="1380.81" y="537.81" width="3.38" height="3.38"/>
<rect x="1415.81" y="507.81" width="3.38" height="3.38"/>
<rect x="1443.81" y="472.81" width="3.38" height="3.38"/>
<rect x="1464.81" y="433.81" width="3.38" height="3.38"/>
<rect x="1476.81" y="392.81" width="3.38" height="3.38"/>
<rect x="1482.81" y="349.81" width="3.38" height="3.38"/>
<rect x="1477.81" y="306.81" width="3.38" height="3.38"/>
<rect x="1465.81" y="265.81" width="3.38" height="3.38"/>
<rect x="1444.81" y="226.81" width="3.38" height="3.38"/>
<rect x="1416.81" y="191.81" width="3.38" height="3.38"/>
<rect x="1381.81" y="161.81" width="3.38" height="3.38"/>
<rect x="1341.81" y="136.81" width="3.38" height="3.38"/>
<rect x="1296.81" y="118.81" width="3.38" height="3.38"/>
<rect x="1249.81" y="107.81" width="3.38" height="3.38"/>
<rect x="1200.81" y="103.81" width="3.38" height="3.38"/>
<rect x="1151.81" y="107.81" width="3.38" height="3.38"/>
<rect x="1104.81" y="118.81" width="3.38" height="3.38"/>
<rect x="1059.81" y="136.81" width="3.38" height="3.38"/>
<rect x="1019.81" y="161.81" width="3.38" height="3.38"/>
<rect x="984.81" y="191.81" width="3.38" height="3.38"/>
<rect x="956.81" y="226.81" width="3.38" height="3.38"/>
<rect x="935.81" y="265.81" width="3.38" height="3.38"/>
<rect x="923.81" y="306.81" width="3.38" height="3.38"/>
<rect x="918.81" y="349.81" width="3.38" height="3.38"/>
<rect x="923.81" y="392.81" width="3.38" height="3.38"/>
<rect x="935.81" y="433.81" width="3.38" height="3.38"/>
<rect x="956.81" y="472.81" width="3.38" height="3.38"/>
<rect x="984.81" y="508.81" width="3.38" height="3.38"/>
<rect x="1019.81" y="538.81" width="3.38" height="3.38"/>
<rect x="1059.81" y="562.81" width="3.38" height="3.38"/>
<rect x="1104.81" y="581.81" width="3.38" height="3.38"/>
<rect x="1151.81" y="592.81" width="3.38" height="3.38"/>
<rect x="1200.81" y="595.81" width="3.38" height="3.38"/>
<rect x="1249.81" y="592.81" width="3.38" height="3.38"/>
<rect x="1296.81" y="581.81" width="3.38" height="3.38"/>
<rect x="1341.81" y="562.81" width="3.38" height="3.38"/>
<rect x="1381.81" y="538.81" width="3.38" height="3.38"/>
<rect x="1416.81" y="508.81" width="3.38" height="3.38"/>
<rect x="1444.81" y="472.81" width="3.38" height="3.38"/>
<rect x="1465.81" y="433.81" width="3.38" height="3.38"/>
<rect x="1477.81" y="392.81" width="3.38" height="3.38"/>
</g>
<circle cx="1437.5" cy="315.5" r="3.4" fill="#ff0000"/>
<rect x="920.5" y="105.5" width="564.0" height="493.0" fill="none" stroke="#000" stroke-width="1.11"/>
<line x1="920.5" y1="598.5" x2="920.5" y2="603.36" stroke="#000" stroke-width="1.11"/>
<text x="920.38" y="618" font-size="13.889" text-anchor="middle" textLength="41.36">−1.00</text>
<line x1="920.5" y1="598.5" x2="915.64" y2="598.5" stroke="#000" stroke-width="1.11"/>
<text x="909.9" y="603" font-size="13.889" text-anchor="end" textLength="40.76">−1.00</text>
<line x1="991.5" y1="598.5" x2="991.5" y2="603.36" stroke="#000" stroke-width="1.11"/>
<text x="990.84" y="618" font-size="13.889" text-anchor="middle" textLength="41.36">−0.75</text>
<line x1="920.5" y1="536.5" x2="915.64" y2="536.5" stroke="#000" stroke-width="1.11"/>
<text x="909.9" y="542" font-size="13.889" text-anchor="end" textLength="40.76">−0.75</text>
<line x1="1061.5" y1="598.5" x2="1061.5" y2="603.36" stroke="#000" stroke-width="1.11"/>
<text x="1061.29" y="618" font-size="13.889" text-anchor="middle" textLength="41.36">−0.50</text>
<line x1="920.5" y1="474.5" x2="915.64" y2="474.5" stroke="#000" stroke-width="1.11"/>
<text x="909.9" y="480" font-size="13.889" text-anchor="end" textLength="40.76">−0.50</text>
<line x1="1132.5" y1="598.5" x2="1132.5" y2="603.36" stroke="#000" stroke-width="1.11"/>
<text x="1131.75" y="618" font-size="13.889" text-anchor="middle" textLength="41.36">−0.25</text>
<line x1="920.5" y1="413.5" x2="915.64" y2="413.5" stroke="#000" stroke-width="1.11"/>
<text x="909.9" y="418" font-size="13.889" text-anchor="end" textLength="40.76">−0.25</text>
<line x1="1202.5" y1="598.5" x2="1202.5" y2="603.36" stroke="#000" stroke-width="1.11"/>
<text x="1202.2" y="618" font-size="13.889" text-anchor="middle" textLength="29.72">0.00</text>
<line x1="920.5" y1="351.5" x2="915.64" y2="351.5" stroke="#000" stroke-width="1.11"/>
<text x="909.9" y="357" font-size="13.889" text-anchor="end" textLength="29.12">0.00</text>
<line x1="1272.5" y1="598.5" x2="1272.5" y2="603.36" stroke="#000" stroke-width="1.11"/>
<text x="1272.65" y="618" font-size="13.889" text-anchor="middle" textLength="29.72">0.25</text>
<line x1="920.5" y1="290.5" x2="915.64" y2="290.5" stroke="#000" stroke-width="1.11"/>
<text x="909.9" y="295" font-size="13.889" text-anchor="end" textLength="29.12">0.25</text>
<line x1="1343.5" y1="598.5" x2="1343.5" y2="603.36" stroke="#000" stroke-width="1.11"/>
<text x="1343.11" y="618" font-size="13.889" text-anchor="middle" textLength="29.72">0.50</text>
<line x1="920.5" y1="228.5" x2="915.64" y2="228.5" stroke="#000" stroke-width="1.11"/>
<text x="909.9" y="234" font-size="13.889" text-anchor="end" textLength="29.12">0.50</text>
<line x1="1413.5" y1="598.5" x2="1413.5" y2="603.36" stroke="#000" stroke-width="1.11"/>
<text x="1413.56" y="618" font-size="13.889" text-anchor="middle" textLength="29.72">0.75</text>
<line x1="920.5" y1="166.5" x2="915.64" y2="166.5" stroke="#000" stroke-width="1.11"/>
<text x="909.9" y="172" font-size="13.889" text-anchor="end" textLength="29.12">0.75</text>
<line x1="1484.5" y1="598.5" x2="1484.5" y2="603.36" stroke="#000" stroke-width="1.11"/>
<text x="1484.02" y="618" font-size="13.889" text-anchor="middle" textLength="29.72">1.00</text>
<line x1="920.5" y1="105.5" x2="915.64" y2="105.5" stroke="#000" stroke-width="1.11"/>
<text x="909.9" y="110" font-size="13.889" text-anchor="end" textLength="29.12">1.00</text>
<text x="1195.8" y="80" font-size="22.222">N</text>
<text x="1196.5" y="655.7" font-size="22.222">S</text>
<text x="841.2" y="360" font-size="22.222">W</text>
<text x="1506.8" y="360" font-size="22.222">E</text>
<text x="448.5" y="720" font-size="22.222" textLength="671.0">The spectrum of allowed and forbidden rigidities (left panel)</text>
<text x="438.6" y="752" font-size="22.222" textLength="692.6">The incoming direction is signed by the red point (rigth panel)</text>
<text x="802.4" y="784" font-size="13.889" text-anchor="middle">IEP SAS</text>
</svg></body></html>
